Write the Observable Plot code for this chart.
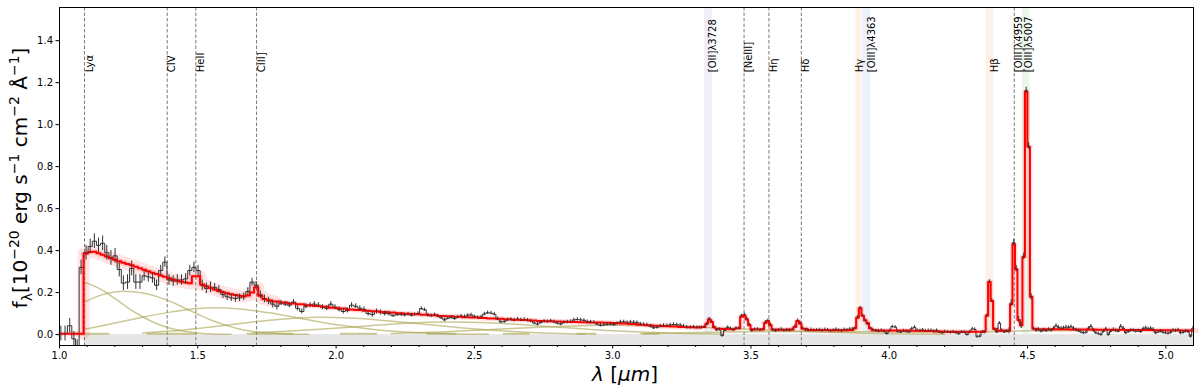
<!DOCTYPE html>
<html><head><meta charset="utf-8">
<script src="https://cdn.jsdelivr.net/npm/d3@7"></script>
<script src="https://cdn.jsdelivr.net/npm/@observablehq/plot@0.6"></script>
<style>body{margin:0;background:#fff;} svg{display:block;}</style>
</head><body><div id="chart"></div>
<script>
// ---- observed spectrum [wavelength µm, flux 1e-20 cgs] ----
const specA = [[1.005,0.005],[1.020,0.005],[1.037,0.042],[1.052,-0.020],[1.064,-0.060],[1.078,0.320]];
const specB = [[1.096,0.39],[1.111,0.42],[1.126,0.445],[1.141,0.425],[1.156,0.435],[1.171,0.39],[1.186,0.365],[1.201,0.375],[1.216,0.31],[1.231,0.245],[1.246,0.25],[1.261,0.315],[1.276,0.25],[1.291,0.25],[1.306,0.28],[1.321,0.275],[1.336,0.27],[1.351,0.235],[1.366,0.305],[1.381,0.345],[1.396,0.26],[1.411,0.255],[1.426,0.26],[1.441,0.26],[1.456,0.265],[1.471,0.305],[1.486,0.32],[1.501,0.305],[1.516,0.235],[1.531,0.22],[1.546,0.225],[1.561,0.225],[1.576,0.215],[1.591,0.19],[1.606,0.18],[1.621,0.175],[1.636,0.172],[1.651,0.175],[1.666,0.18],[1.681,0.205],[1.696,0.25],[1.711,0.235],[1.726,0.19],[1.741,0.17],[1.756,0.16],[1.771,0.145],[1.786,0.135],[1.801,0.15],[1.816,0.145],[1.831,0.14],[1.846,0.155],[1.861,0.125],[1.876,0.11],[1.891,0.135],[1.906,0.14],[1.921,0.145],[1.936,0.14],[1.951,0.13],[1.966,0.125],[1.981,0.145],[1.996,0.13],[2.011,0.12],[2.026,0.11],[2.041,0.115],[2.056,0.14],[2.071,0.135],[2.086,0.125],[2.101,0.12],[2.116,0.10],[2.131,0.095],[2.146,0.11],[2.161,0.105],[2.176,0.10],[2.191,0.10],[2.206,0.09],[2.221,0.095]];
const specC = [[2.236,0.095],[2.248,0.093],[2.260,0.097],[2.272,0.092],[2.284,0.096],[2.296,0.1],[2.308,0.124],[2.320,0.118],[2.332,0.092],[2.344,0.09],[2.356,0.094],[2.368,0.088],[2.380,0.08],[2.392,0.07],[2.404,0.078],[2.416,0.082],[2.428,0.076],[2.440,0.084],[2.452,0.088],[2.464,0.086],[2.476,0.092],[2.488,0.094],[2.500,0.085],[2.512,0.081],[2.524,0.084],[2.536,0.098],[2.548,0.104],[2.560,0.102],[2.572,0.097],[2.584,0.075],[2.596,0.06],[2.608,0.062],[2.620,0.07],[2.632,0.072],[2.644,0.069],[2.656,0.073],[2.668,0.07],[2.680,0.072],[2.692,0.068],[2.704,0.066],[2.716,0.055],[2.728,0.05],[2.740,0.058],[2.752,0.063],[2.764,0.062],[2.776,0.065],[2.788,0.061],[2.800,0.054],[2.812,0.05],[2.824,0.058],[2.836,0.06],[2.848,0.062],[2.860,0.07],[2.872,0.072],[2.884,0.07],[2.896,0.068],[2.908,0.062],[2.920,0.06],[2.932,0.058],[2.944,0.05],[2.956,0.044],[2.968,0.046],[2.980,0.048],[2.992,0.05],[3.004,0.047],[3.016,0.052],[3.028,0.06],[3.040,0.061],[3.052,0.058],[3.064,0.06],[3.076,0.059],[3.088,0.057],[3.100,0.05],[3.112,0.048],[3.124,0.046],[3.136,0.04],[3.148,0.032],[3.160,0.034],[3.172,0.04],[3.184,0.044],[3.196,0.043],[3.208,0.046],[3.220,0.048],[3.232,0.047],[3.244,0.045],[3.256,0.04],[3.268,0.035],[3.280,0.034],[3.292,0.036],[3.304,0.034]];
const specD = [[3.313,0.034],[3.322,0.034],[3.331,0.036],[3.340,0.05],[3.349,0.075],[3.358,0.063],[3.367,0.035],[3.376,0.022],[3.386,0.024],[3.396,-0.005],[3.406,0.02],[3.416,0.035],[3.426,0.028],[3.436,0.022],[3.446,0.03],[3.456,0.03],[3.466,0.09],[3.476,0.095],[3.485,0.075],[3.494,0.048],[3.503,0.019],[3.513,0.024],[3.523,0.026],[3.533,0.022],[3.543,0.024],[3.552,0.059],[3.561,0.067],[3.570,0.048],[3.579,0.022],[3.589,0.018],[3.599,0.022],[3.609,0.026],[3.619,0.02],[3.629,0.022],[3.639,0.02],[3.649,0.025],[3.659,0.04],[3.669,0.067],[3.678,0.054],[3.687,0.03],[3.697,0.022],[3.707,0.02],[3.717,0.024],[3.727,0.02],[3.737,0.021],[3.747,0.023],[3.757,0.019],[3.767,0.024],[3.777,0.022],[3.787,0.018],[3.797,0.02],[3.807,0.025],[3.817,0.02],[3.827,0.018],[3.837,0.024],[3.847,0.022],[3.857,0.026],[3.866,0.026],[3.876,0.03],[3.885,0.083],[3.895,0.127],[3.904,0.09],[3.913,0.067],[3.922,0.05],[3.931,0.03],[3.941,0.022],[3.951,0.018],[3.961,0.016],[3.971,0.02],[3.981,0.015],[3.991,0.005],[4.001,0.018],[4.011,0.038],[4.021,0.036],[4.031,0.014],[4.041,0.012],[4.051,0.018],[4.061,0.015],[4.071,0.012],[4.081,0.028],[4.091,0.035],[4.101,0.02],[4.111,0.018],[4.121,0.022],[4.131,0.017],[4.141,0.019],[4.151,0.02],[4.161,0.016],[4.171,0.02],[4.181,0.012],[4.191,0.008],[4.201,0.014],[4.211,0.012],[4.221,0.01],[4.231,0.013],[4.241,0.009],[4.251,0.004],[4.261,0.012],[4.271,0.011],[4.281,0.0],[4.291,0.012],[4.300,0.027],[4.309,0.025],[4.318,-0.01],[4.327,-0.008],[4.336,0.012],[4.344,0.011],[4.353,0.092],[4.362,0.254],[4.371,0.163],[4.380,0.024],[4.389,0.012],[4.398,0.055],[4.407,0.02],[4.416,0.012],[4.425,0.015],[4.433,0.018],[4.441,0.15],[4.450,0.438],[4.459,0.314],[4.468,0.071],[4.477,0.044],[4.486,0.373],[4.495,1.163],[4.504,0.898],[4.513,0.179]];
const specE = [[4.522,0.028],[4.531,0.02],[4.540,0.024],[4.549,0.016],[4.558,0.022],[4.567,0.018],[4.576,0.024],[4.585,0.02],[4.594,0.03],[4.603,0.043],[4.612,0.034],[4.621,0.03],[4.630,0.032],[4.639,0.036],[4.648,0.034],[4.657,0.038],[4.666,0.03],[4.675,0.022],[4.684,0.018],[4.693,0.012],[4.702,0.008],[4.711,0.01],[4.720,0.03],[4.729,0.04],[4.738,0.02],[4.747,0.008],[4.756,0.004],[4.765,0.0],[4.774,0.015],[4.783,0.027],[4.792,0.0],[4.801,0.016],[4.810,0.024],[4.819,0.018],[4.828,0.016],[4.837,0.04],[4.846,0.03],[4.855,0.008],[4.864,0.014],[4.873,0.02],[4.882,0.02],[4.891,0.016],[4.900,0.018],[4.909,0.014],[4.918,0.028],[4.927,0.032],[4.936,0.027],[4.945,0.03],[4.954,0.025],[4.963,0.008],[4.972,0.012],[4.981,0.016],[4.990,0.01],[4.999,0.008],[5.008,0.006],[5.017,0.01],[5.026,0.02],[5.035,0.018],[5.044,0.022],[5.053,0.008],[5.062,0.01],[5.071,0.016],[5.080,0.014],[5.089,-0.008],[5.098,0.03],[5.107,0.012]];

// error-bar half-length by wavelength range
const errEdges  = [0.9, 1.085, 1.3, 1.55, 1.8, 2.2, 3.3, 4.43, 4.52, 5.2];
const errLevels = [0.035, 0.035, 0.025, 0.018, 0.012, 0.008, 0.007, 0.015, 0.008];

// ---- best-fit model (red) ----
const modelA = [[1.0,0.004],[1.04,0.004],[1.078,0.004],[1.096,0.386],[1.111,0.393],[1.126,0.395],[1.141,0.388],[1.156,0.38],[1.171,0.372],[1.186,0.364],[1.201,0.356],[1.216,0.349],[1.231,0.342],[1.246,0.336],[1.261,0.33],[1.276,0.323],[1.291,0.316],[1.306,0.309],[1.321,0.302],[1.336,0.295],[1.351,0.288],[1.366,0.281],[1.381,0.275],[1.396,0.268],[1.411,0.262],[1.426,0.257],[1.441,0.252],[1.456,0.248],[1.471,0.245],[1.486,0.278],[1.501,0.278],[1.516,0.238],[1.531,0.23],[1.546,0.222],[1.561,0.215],[1.576,0.208],[1.591,0.202],[1.606,0.197],[1.621,0.192],[1.636,0.188],[1.651,0.185],[1.666,0.183],[1.681,0.186],[1.696,0.2],[1.711,0.225],[1.726,0.185],[1.741,0.17],[1.756,0.164]];
const modelB = [[1.78,0.158],[1.81,0.153],[1.84,0.148],[1.87,0.144],[1.90,0.14],[1.93,0.136],[1.96,0.132],[1.99,0.128],[2.02,0.124],[2.05,0.12],[2.08,0.117],[2.11,0.114],[2.14,0.111],[2.17,0.108],[2.20,0.105],[2.23,0.102],[2.26,0.099],[2.29,0.097],[2.32,0.094],[2.35,0.092],[2.38,0.089],[2.41,0.087],[2.44,0.085],[2.47,0.083],[2.50,0.081],[2.53,0.079],[2.56,0.077],[2.59,0.075],[2.62,0.073],[2.65,0.071],[2.68,0.069],[2.71,0.067],[2.74,0.065],[2.77,0.063],[2.80,0.062],[2.83,0.061],[2.86,0.06],[2.89,0.059],[2.92,0.058],[2.95,0.057],[2.98,0.056],[3.01,0.055],[3.04,0.053],[3.07,0.05],[3.10,0.047],[3.13,0.044],[3.16,0.042],[3.19,0.04],[3.22,0.038],[3.25,0.036],[3.28,0.035],[3.31,0.034]];
const modelC = [[3.331,0.036],[3.340,0.052],[3.349,0.072],[3.358,0.06],[3.367,0.035],[3.376,0.028],[3.40,0.027],[3.43,0.026],[3.456,0.03],[3.466,0.085],[3.476,0.09],[3.485,0.072],[3.494,0.045],[3.503,0.026],[3.53,0.024],[3.543,0.026],[3.552,0.055],[3.561,0.063],[3.570,0.045],[3.579,0.024],[3.61,0.023],[3.649,0.024],[3.659,0.036],[3.669,0.065],[3.678,0.052],[3.687,0.028],[3.72,0.022],[3.76,0.022],[3.80,0.021],[3.84,0.021],[3.866,0.022],[3.876,0.03],[3.885,0.08],[3.895,0.125],[3.904,0.09],[3.913,0.068],[3.922,0.055],[3.931,0.03],[3.941,0.021],[3.98,0.02],[4.02,0.02],[4.06,0.019],[4.10,0.018],[4.14,0.017],[4.18,0.015],[4.22,0.014],[4.26,0.013],[4.30,0.013],[4.336,0.014],[4.344,0.016],[4.353,0.09],[4.362,0.25],[4.371,0.16],[4.380,0.028],[4.40,0.018],[4.42,0.019],[4.433,0.02],[4.441,0.145],[4.450,0.43],[4.459,0.31],[4.468,0.07],[4.477,0.045],[4.486,0.37],[4.495,1.155],[4.504,0.895],[4.513,0.18],[4.522,0.028],[4.55,0.026],[4.60,0.025],[4.70,0.024],[4.80,0.023],[4.90,0.022],[5.00,0.021],[5.11,0.02]];

// ---- continuum components (olive) ----
const compA = [[1.09,0.25],[1.15,0.215],[1.2,0.172],[1.25,0.125],[1.3,0.085],[1.35,0.053],[1.4,0.03],[1.45,0.016],[1.5,0.008],[1.55,0.003],[1.62,0.001]];
const compB = [[1.09,0.155],[1.15,0.188],[1.2,0.203],[1.232,0.206],[1.3,0.198],[1.35,0.182],[1.4,0.158],[1.45,0.128],[1.5,0.097],[1.55,0.068],[1.6,0.045],[1.65,0.027],[1.7,0.015],[1.8,0.004],[1.9,0.001]];
const compC = [[1.09,0.025],[1.2,0.055],[1.3,0.083],[1.4,0.107],[1.5,0.124],[1.557,0.128],[1.65,0.122],[1.75,0.105],[1.85,0.083],[1.95,0.058],[2.05,0.038],[2.15,0.022],[2.25,0.012],[2.4,0.004],[2.55,0.001]];
const compD = [[1.3,0.008],[1.45,0.022],[1.6,0.044],[1.7,0.06],[1.8,0.073],[1.93,0.082],[2.05,0.079],[2.15,0.07],[2.3,0.052],[2.45,0.033],[2.6,0.018],[2.75,0.008],[2.9,0.003]];
const compE = [[1.7,0.008],[1.9,0.022],[2.1,0.04],[2.25,0.054],[2.4,0.06],[2.55,0.056],[2.7,0.045],[2.85,0.031],[3.0,0.018],[3.2,0.007],[3.4,0.002]];
const compF = [[2.2,0.005],[2.4,0.014],[2.6,0.027],[2.8,0.039],[3.0,0.045],[3.2,0.041],[3.4,0.031],[3.6,0.019],[3.8,0.01],[4.0,0.004],[4.2,0.001]];
const compG = [[3.1,0.004],[3.3,0.01],[3.5,0.014],[3.8,0.014],[4.1,0.012],[4.3,0.012],[4.5,0.018],[4.7,0.021],[4.9,0.02],[5.1,0.018]];
const tailStart = [1.091, 1.317, 1.679, 2.016, 2.328, 2.605, 2.871, 3.112];
const tailEnd   = [1.182, 1.498, 1.847, 2.149, 2.437, 2.702, 2.943, 3.172];

// ---- emission lines ----
const lineNames = ["Lyα","CIV","HeII","CIII]","[OII]λ3728","[NeIII]","Hη","Hδ","Hγ","[OIII]λ4363","Hβ","[OIII]λ4959","[OIII]λ5007"];
const linePos   = [1.0904, 1.3895, 1.4929, 1.7125, 3.347, 3.475, 3.565, 3.682, 3.891, 3.918, 4.364, 4.452, 4.495];
const labelPos  = [1.0904, 1.3895, 1.4929, 1.7125, 3.344, 3.475, 3.565, 3.682, 3.876, 3.919, 4.364, 4.452, 4.486];
const lineKind  = ["dash","dash","dash","dash","band","dash","dash","dash","band","band","band","dash","band"];
const bandHalf  = [0,0,0,0,0.0145,0,0,0,0.011,0.0145,0.014,0,0.014];
const bandColor = ["","","","","#f0eff8","","","","#fef2e8","#edf2fa","#fef2e8","","#edf6ed"];

const xMajor = [1.0,1.5,2.0,2.5,3.0,3.5,4.0,4.5,5.0];
const xMinor = [1.1,1.2,1.3,1.4,1.6,1.7,1.8,1.9,2.1,2.2,2.3,2.4,2.6,2.7,2.8,2.9,3.1,3.2,3.3,3.4,3.6,3.7,3.8,3.9,4.1,4.2,4.3,4.4,4.6,4.7,4.8,4.9];
const yTicks = [0.0,0.2,0.4,0.6,0.8,1.0,1.2,1.4];

const X0 = 1.0, X1 = 5.1, Y0 = -0.052, Y1 = 1.558;
const zeroBandStart = 1.0904;

const spec = [...specA, ...specB, ...specC, ...specD, ...specE];
const model = [...modelA, ...modelB, ...modelC];
const errAt = w => errLevels[Math.max(0, d3.bisectRight(errEdges, w) - 1)];
const lineIdx = d3.range(lineNames.length);
const dashIdx = lineIdx.filter(i => lineKind[i] === "dash");
const bandIdx = lineIdx.filter(i => lineKind[i] === "band");
const tailIdx = d3.range(tailStart.length);
const olive = "#a8a450";
const comps = [compA, compB, compC, compD, compE, compF, compG];

const plot = Plot.plot({
  width: 1200, height: 387,
  marginLeft: 59, marginRight: 7, marginTop: 7, marginBottom: 42,
  style: {fontFamily: "DejaVu Sans, sans-serif", fontSize: "10px", background: "white", color: "black"},
  x: {domain: [X0, X1]},
  y: {domain: [Y0, Y1]},
  marks: [
    Plot.rect(bandIdx, {x1: i => linePos[i] - bandHalf[i], x2: i => linePos[i] + bandHalf[i], y1: () => Y0, y2: () => Y1, fill: i => bandColor[i]}),
    Plot.rect([0], {x1: () => zeroBandStart, x2: () => X1, y1: () => Y0, y2: () => 0, fill: "#e6e6e6"}),
    Plot.ruleX(dashIdx, {x: i => linePos[i], stroke: "#7a7a7a", strokeWidth: 1, strokeDasharray: "3.5,2"}),
    ...comps.map(c => Plot.line(c, {x: d => d[0], y: d => d[1], stroke: olive, strokeOpacity: 0.6, strokeWidth: 1.5, curve: "catmull-rom"})),
    Plot.ruleY(tailIdx, {x1: i => tailStart[i], x2: i => tailEnd[i], y: () => 0.004, stroke: olive, strokeOpacity: 0.6, strokeWidth: 2}),
    Plot.line(model.filter(d => d[0] > 1.07 && d[0] < 1.8), {x: d => d[0], y: d => d[1], curve: "step", stroke: "#ff4040", strokeOpacity: 0.14, strokeWidth: 12}),
    Plot.line(model, {x: d => d[0], y: d => d[1], curve: "step", stroke: "#ff4040", strokeOpacity: 0.2, strokeWidth: 5}),
    Plot.line(spec, {x: d => d[0], y: d => d[1], curve: "step", stroke: "#333", strokeWidth: 1, clip: true}),
    Plot.line(model, {x: d => d[0], y: d => d[1], curve: "step", stroke: "#ff0000", strokeWidth: 2, clip: true}),
    Plot.ruleX(spec, {x: d => d[0], y1: d => d[1] - errAt(d[0]), y2: d => d[1] + errAt(d[0]), stroke: "#333", strokeWidth: 1, clip: true}),
    Plot.text(lineIdx, {x: i => labelPos[i], y: () => 1.25, text: i => lineNames[i], rotate: -90, textAnchor: "start", lineAnchor: "top", fontSize: 10, fill: "black", dx: 1}),
    Plot.axisX(xMajor, {tickSize: 3.5, tickPadding: 3, tickFormat: d3.format(".1f"), fontSize: 10, label: null}),
    Plot.axisX(xMinor, {tickSize: 2, tickFormat: () => "", label: null}),
    Plot.axisY(yTicks, {tickSize: 3.5, tickPadding: 3, tickFormat: d3.format(".1f"), fontSize: 10, label: null}),
    Plot.frame({stroke: "black", strokeWidth: 1})
  ]
});

const svg = d3.select(plot);
const yl = svg.append("text")
  .attr("transform", "translate(27,178) rotate(-90)")
  .attr("text-anchor", "middle").attr("font-size", 20).attr("fill", "black")
  .attr("font-family", "DejaVu Sans, sans-serif");
const parts = [
  ["f", 0, 20], ["λ", 5, 14], ["[10", -5, 20], ["−20", -8, 14], [" erg s", 8, 20], ["−1", -8, 14],
  [" cm", 8, 20], ["−2", -8, 14], [" Å", 8, 20], ["−1", -8, 14], ["]", 8, 20]
];
parts.forEach(([t, dy, fs]) => yl.append("tspan").attr("dy", dy).attr("font-size", fs).text(t));

const xl = svg.append("text")
  .attr("x", 625).attr("y", 381)
  .attr("text-anchor", "middle").attr("font-size", 20).attr("fill", "black")
  .attr("font-family", "DejaVu Sans, sans-serif");
xl.append("tspan").attr("font-style", "italic").text("λ");
xl.append("tspan").text(" [");
xl.append("tspan").attr("font-style", "italic").text("μm");
xl.append("tspan").text("]");

document.getElementById("chart").appendChild(plot);
</script>
</body></html>
